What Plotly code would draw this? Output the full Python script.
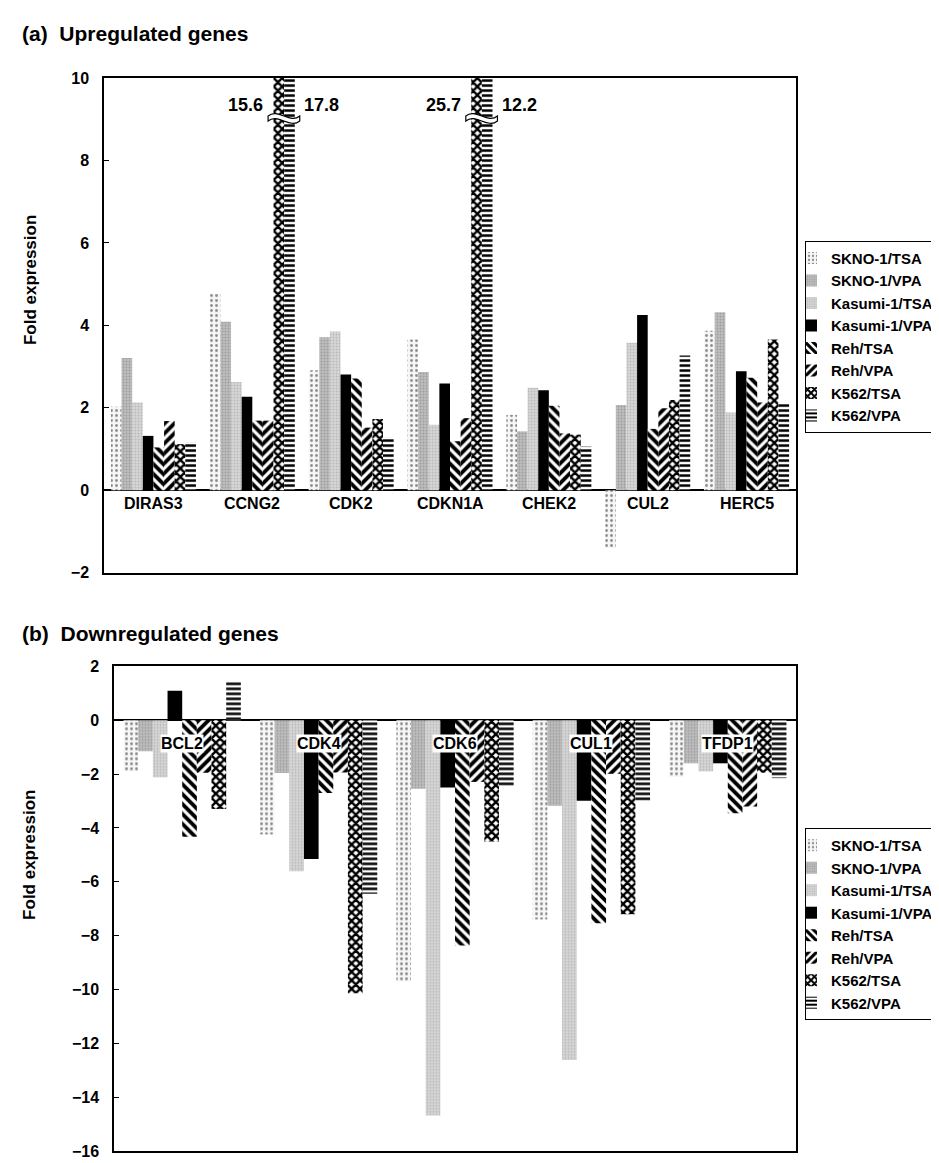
import plotly.graph_objects as go

# ---------------- data ----------------
series = ["SKNO-1/TSA", "SKNO-1/VPA", "Kasumi-1/TSA", "Kasumi-1/VPA",
          "Reh/TSA", "Reh/VPA", "K562/TSA", "K562/VPA"]

up_genes = ["DIRAS3", "CCNG2", "CDK2", "CDKN1A", "CHEK2", "CUL2", "HERC5"]
up_skno1_tsa = [2.03, 4.77, 2.91, 3.66, 1.83, -1.40, 3.87]
up_skno1_vpa = [3.21, 4.09, 3.71, 2.87, 1.43, 2.07, 4.32]
up_kasumi1_tsa = [2.13, 2.63, 3.85, 1.59, 2.49, 3.58, 1.89]
up_kasumi1_vpa = [1.32, 2.27, 2.81, 2.59, 2.43, 4.25, 2.89]
up_reh_tsa = [1.04, 1.69, 2.71, 1.19, 2.05, 1.49, 2.73]
up_reh_vpa = [1.68, 1.69, 1.52, 1.75, 1.38, 1.99, 2.13]
up_k562_tsa = [1.12, 15.6, 1.73, 25.7, 1.35, 2.19, 3.66]
up_k562_vpa = [1.17, 17.8, 1.28, 12.2, 1.06, 3.27, 2.12]

down_genes = ["BCL2", "CDK4", "CDK6", "CUL1", "TFDP1"]
down_skno1_tsa = [-1.90, -4.24, -9.70, -7.40, -2.10]
down_skno1_vpa = [-1.15, -1.96, -2.54, -3.18, -1.60]
down_kasumi1_tsa = [-2.12, -5.61, -14.68, -12.62, -1.90]
down_kasumi1_vpa = [1.09, -5.15, -2.50, -2.99, -1.60]
down_reh_tsa = [-4.33, -2.70, -8.36, -7.54, -3.45]
down_reh_vpa = [-1.95, -1.94, -2.29, -1.99, -3.20]
down_k562_tsa = [-3.30, -10.14, -4.50, -7.20, -1.95]
down_k562_vpa = [1.42, -6.44, -2.48, -2.99, -2.15]

up_values = [up_skno1_tsa, up_skno1_vpa, up_kasumi1_tsa, up_kasumi1_vpa,
             up_reh_tsa, up_reh_vpa, up_k562_tsa, up_k562_vpa]
down_values = [down_skno1_tsa, down_skno1_vpa, down_kasumi1_tsa, down_kasumi1_vpa,
               down_reh_tsa, down_reh_vpa, down_k562_tsa, down_k562_vpa]

broken_genes = ["CCNG2", "CDKN1A"]   # bars that run off the top of panel (a)

# ---------------- styles ----------------
FONT = "Liberation Sans, Arial, Helvetica, sans-serif"
styles = [
    dict(color="#f2f2f2", pattern=dict(shape=".", fgcolor="#222222", bgcolor="#f6f6f6", size=5, solidity=0.25)),
    dict(color="#b8b8b8", pattern=dict(shape=".", fgcolor="#7a7a7a", bgcolor="#c0c0c0", size=3, solidity=0.4)),
    dict(color="#d4d4d4", pattern=dict(shape=".", fgcolor="#999999", bgcolor="#d8d8d8", size=3, solidity=0.4)),
    dict(color="#000000"),
    dict(color="#ffffff", pattern=dict(shape="\\", fgcolor="#000000", bgcolor="#ffffff", size=7, solidity=0.55, fgopacity=1)),
    dict(color="#ffffff", pattern=dict(shape="/", fgcolor="#000000", bgcolor="#ffffff", size=7, solidity=0.55, fgopacity=1)),
    dict(color="#ffffff", pattern=dict(shape="x", fgcolor="#000000", bgcolor="#ffffff", size=6, solidity=0.65, fgopacity=1)),
    dict(color="#ffffff", pattern=dict(shape="-", fgcolor="#000000", bgcolor="#ffffff", size=5, solidity=0.5, fgopacity=1)),
]

fig = go.Figure()
for k, name in enumerate(series):
    fig.add_trace(go.Bar(
        x=up_genes, y=up_values[k], name=name, marker=dict(line=dict(width=0), **styles[k]),
        xaxis="x", yaxis="y", legend="legend", showlegend=True))
for k, name in enumerate(series):
    fig.add_trace(go.Bar(
        x=down_genes, y=down_values[k], name=name, marker=dict(line=dict(width=0), **styles[k]),
        xaxis="x2", yaxis="y2", legend="legend2", showlegend=True))

W, H = 939, 1163
def px_y(p):
    return 1 - p / H

axis_common = dict(showline=True, mirror=True, linecolor="black", linewidth=1.5, showgrid=False)
tickfont = dict(family=FONT, size=16, color="black", weight=700)
legfont = dict(family=FONT, size=15, color="black", weight=700)

fig.update_layout(
    width=W, height=H, margin=dict(l=0, r=0, t=0, b=0),
    paper_bgcolor="white", plot_bgcolor="white",
    barmode="group", bargap=0.14, bargroupgap=0,
    font=dict(family=FONT, color="black"),
    xaxis=dict(domain=[96 / W, 788 / W], anchor="y", showticklabels=False, ticks="", **axis_common),
    yaxis=dict(domain=[px_y(565), px_y(63)], anchor="x", range=[-2, 10], tickvals=list(range(-2, 11, 2)),
               ticks="inside", ticklen=5, tickcolor="black", ticklabelstandoff=10, tickfont=tickfont,
               zeroline=True, zerolinecolor="black", zerolinewidth=1.5, **axis_common),
    xaxis2=dict(domain=[106 / W, 788 / W], anchor="y2", showticklabels=False, ticks="", **axis_common),
    yaxis2=dict(domain=[px_y(1152), px_y(660)], anchor="x2", range=[-16, 2], tickvals=list(range(-16, 3, 2)),
                ticks="inside", ticklen=5, tickcolor="black", ticklabelstandoff=10, tickfont=tickfont,
                zeroline=True, zerolinecolor="black", zerolinewidth=1.5, **axis_common),
    legend=dict(x=797 / W, xanchor="left", y=px_y(228), yanchor="top", bgcolor="white",
                bordercolor="black", borderwidth=1, indentation=-15,
                font=legfont, traceorder="normal"),
    legend2=dict(x=797 / W, xanchor="left", y=px_y(824), yanchor="top", bgcolor="white",
                 bordercolor="black", borderwidth=1, indentation=-15,
                 font=legfont, traceorder="normal"),
)

ann = []
titlefont = dict(family=FONT, size=21, color="black", weight=700)
ann.append(dict(text="(a)  Upregulated genes", x=12 / W, y=px_y(18), xref="paper", yref="paper",
                xanchor="left", yanchor="middle", showarrow=False, font=titlefont))
ann.append(dict(text="(b)  Downregulated genes", x=12 / W, y=px_y(627), xref="paper", yref="paper",
                xanchor="left", yanchor="middle", showarrow=False, font=titlefont))
labfont = dict(family=FONT, size=17, color="black", weight=700)
ann.append(dict(text="Fold expression", x=22 / W, y=5.1, xref="paper", yref="y", textangle=-90,
                xanchor="center", yanchor="middle", showarrow=False, font=labfont))
ann.append(dict(text="Fold expression", x=22 / W, y=-5.0, xref="paper", yref="y2", textangle=-90,
                xanchor="center", yanchor="middle", showarrow=False, font=labfont))

catfont = dict(family=FONT, size=16, color="black", weight=700)
for g in up_genes:
    ann.append(dict(text=g, x=g, y=-0.33, xref="x", yref="y", showarrow=False,
                    xanchor="center", yanchor="middle", font=catfont))
for g in down_genes:
    ann.append(dict(text=g, x=g, y=-0.85, xref="x2", yref="y2", showarrow=False,
                    xanchor="center", yanchor="middle", font=catfont, bgcolor="white", borderpad=0))

numfont = dict(family=FONT, size=18, color="black", weight=700)
shapes = []
for g in broken_genes:
    i = up_genes.index(g)
    ann.append(dict(text=f"{up_k562_tsa[i]}", x=g, y=9.35, xref="x", yref="y", xshift=13,
                    xanchor="right", yanchor="middle", showarrow=False, font=numfont))
    ann.append(dict(text=f"{up_k562_vpa[i]}", x=g, y=9.35, xref="x", yref="y", xshift=50,
                    xanchor="left", yanchor="middle", showarrow=False, font=numfont))
    x0, x1 = i + 0.16, i + 0.48
    path = (f"M{x0},9.08 C{x0 + 0.1},9.28 {x1 - 0.1},8.88 {x1},9.08 "
            f"L{x1},8.96 C{x1 - 0.1},8.76 {x0 + 0.1},9.16 {x0},8.96 Z")
    shapes.append(dict(type="path", path=path, xref="x", yref="y", fillcolor="white",
                       line=dict(color="black", width=1.2), layer="above"))

fig.update_layout(annotations=ann, shapes=shapes)
fig.write_html("out.html")
